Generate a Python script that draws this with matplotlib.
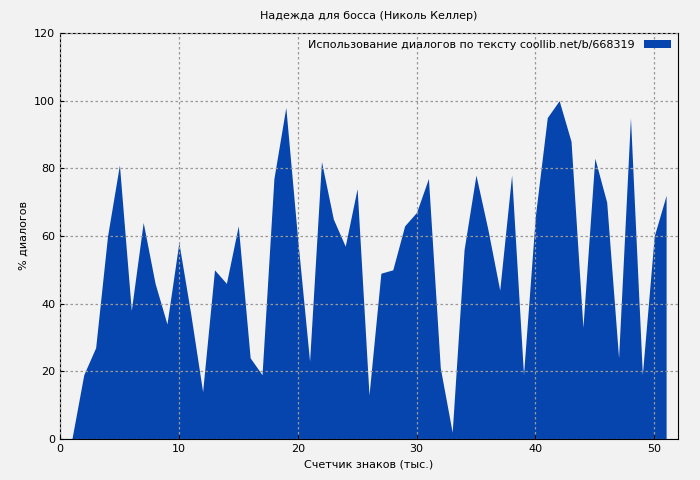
import matplotlib
matplotlib.use("Agg")
from matplotlib import pyplot as plt

# thousands of characters and dialogue percentage
chars = list(range(1, 52))
dialog = [0, 19, 27, 60, 81, 38, 64, 46, 34, 58,
          37, 14, 50, 46, 63, 24, 19, 77, 98, 59,
          23, 82, 65, 57, 74, 13, 49, 50, 63, 67,
          77, 21, 2, 56, 78, 62, 44, 78, 19, 66,
          95, 100, 88, 33, 83, 70, 24, 95, 19, 60, 72]
title = "Надежда для босса (Николь Келлер)"
label = "Использование диалогов по тексту coollib.net/b/668319"

bg = "#f2f2f2"
blue = "#0645ad"

fig = plt.figure(figsize=(7, 4.8), dpi=100, facecolor=bg)
ax = fig.add_axes([60 / 700, 41 / 480, 618 / 700, 406 / 480], facecolor=bg)
ax.fill_between(chars, dialog, 0, color=blue, linewidth=0, label=label)
ax.set_xlim(0, 52)
ax.set_ylim(0, 120)
ax.set_xticks(range(0, 51, 10))
ax.set_yticks(range(0, 121, 20))
ax.grid(True, color="#999999", linestyle=(0, (2, 2)), linewidth=0.9)
ax.set_axisbelow(False)
ax.tick_params(labelsize=8, direction="in", length=3)
ax.set_title(title, fontsize=8, pad=10)
ax.set_xlabel("Счетчик знаков (тыс.)", fontsize=8)
ax.set_ylabel("% диалогов", fontsize=8)
leg = ax.legend(loc="upper right", fontsize=8, frameon=False, handlelength=2.5,
                borderaxespad=0.2, markerfirst=False)
fig.savefig("out.png", dpi=100, facecolor=bg)
